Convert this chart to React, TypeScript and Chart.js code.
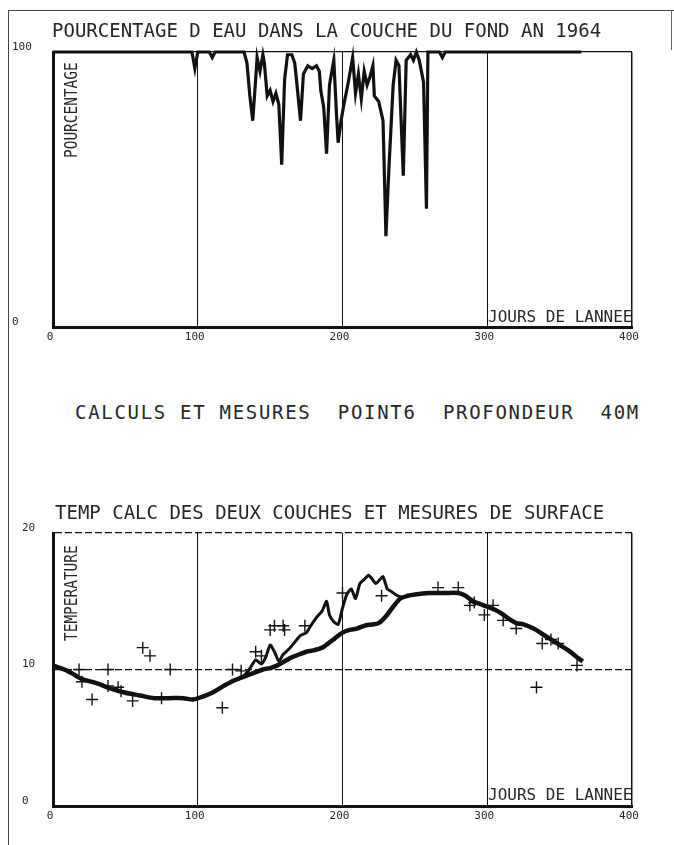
import React, { useEffect, useRef } from "react";
import { Chart, registerables } from "chart.js";
Chart.register(...registerables);

const MONO = "'DejaVu Sans Mono', monospace";
const INK = "#111";
const TXT = "#262626";

// ---- Top chart: pourcentage d'eau dans la couche du fond ----
const pctDays = [0, 96, 98, 100, 108, 110, 112, 132, 134, 136, 138, 140, 141, 143, 145, 146, 148, 150, 152, 154, 156, 158, 160, 162, 165, 167, 168, 171, 173, 176, 179, 182, 184, 185, 187, 189, 191, 194, 196, 197, 199, 201, 204, 207, 209, 211, 213, 215, 217, 219, 221, 222, 225, 228, 230, 232, 235, 237, 239, 242, 244, 247, 249, 251, 253, 256, 258, 259, 267, 269, 271, 365];
const pctValues = [100, 100, 94, 100, 100, 98, 100, 100, 96, 84, 75, 90, 98, 93, 99, 96, 84, 86, 82, 85, 81, 59, 90, 99, 99, 96, 91, 75, 92, 95, 94, 95, 93, 86, 80, 63, 88, 97, 76, 67, 75, 81, 89, 98, 85, 92, 83, 93, 88, 91, 95, 84, 82, 75, 33, 57, 88, 97, 95, 55, 97, 99, 97, 100, 97, 89, 43, 100, 100, 98, 100, 100];

// ---- Bottom chart: temperatures ----
const bottomDays = [0, 5, 10, 15, 20, 30, 40, 50, 60, 70, 80, 90, 97, 103, 110, 118, 125, 130, 135, 140, 145, 150, 155, 160, 165, 170, 175, 180, 186, 190, 195, 200, 205, 210, 215, 220, 225, 230, 235, 240, 245, 250, 260, 270, 280, 285, 290, 295, 300, 305, 310, 315, 320, 325, 332, 338, 344, 350, 356, 362, 366];
const bottomTemps = [10.3, 10.1, 9.9, 9.6, 9.3, 9.0, 8.6, 8.3, 8.1, 7.9, 7.9, 7.9, 7.8, 8.0, 8.3, 8.8, 9.2, 9.4, 9.6, 9.8, 10.0, 10.1, 10.3, 10.6, 10.9, 11.1, 11.3, 11.4, 11.6, 11.9, 12.3, 12.7, 12.9, 13.0, 13.2, 13.3, 13.4, 13.9, 14.6, 15.2, 15.4, 15.5, 15.6, 15.6, 15.6, 15.4, 15.0, 14.8, 14.6, 14.4, 14.1, 13.7, 13.4, 13.3, 13.0, 12.6, 12.2, 11.8, 11.4, 10.9, 10.6];

const surfaceDays = [125, 130, 135, 140, 144, 147, 150, 153, 156, 159, 163, 167, 171, 175, 178, 182, 186, 189, 191, 194, 197, 200, 203, 206, 209, 212, 215, 218, 220, 223, 226, 228, 231, 234, 238, 241];
const surfaceTemps = [9.2, 9.4, 9.9, 10.7, 10.4, 10.9, 11.8, 11.3, 10.6, 11.1, 11.5, 12.0, 12.5, 12.7, 13.2, 13.8, 14.3, 15.0, 14.0, 13.5, 13.3, 14.5, 15.5, 15.9, 15.2, 16.3, 16.6, 16.9, 16.7, 16.3, 16.6, 16.8, 15.9, 15.7, 15.4, 15.3];

const measDays = [18, 20, 27, 38, 38, 45, 47, 55, 62, 67, 75, 81, 117, 124, 130, 140, 144, 150, 153, 159, 160, 174, 200, 227, 266, 280, 288, 291, 298, 304, 311, 320, 334, 338, 344, 349, 362];
const measTemps = [10.0, 9.1, 7.8, 10.0, 8.8, 8.7, 8.4, 7.7, 11.6, 11.0, 7.9, 10.0, 7.2, 10.0, 9.9, 11.3, 11.0, 12.9, 13.2, 13.2, 12.9, 13.2, 15.6, 15.4, 16.0, 16.0, 14.7, 14.9, 14.0, 14.7, 13.6, 13.0, 8.7, 11.9, 12.2, 11.9, 10.3];

const xTickValues = [0, 100, 200, 300, 400];
const pctTickValues = [0, 100];
const tempTickValues = [0, 10, 20];

const pts = (xs: number[], ys: number[]) => xs.map((x, i) => ({ x, y: ys[i] }));

function xScale(height: number) {
  return {
    type: "linear",
    min: 0,
    max: 400,
    afterBuildTicks: (s: any) => {
      s.ticks = xTickValues.map((v) => ({ value: v }));
    },
    afterFit: (s: any) => {
      s.height = height;
    },
    grid: {
      drawTicks: false,
      color: (c: any) => (c.tick && c.tick.value > 0 ? INK : "rgba(0,0,0,0)"),
      lineWidth: (c: any) => (c.tick && c.tick.value === 400 ? 1.5 : 1),
    },
    border: { color: INK, width: 3 },
    ticks: {
      color: TXT,
      font: { family: MONO, size: 11 },
      padding: 4,
      labelOffset: -3,
      maxRotation: 0,
      autoSkip: false,
    },
  };
}

function yScale(min: number, max: number, values: number[], width: number, gridOn: (v: number) => boolean, dash: number[]) {
  return {
    type: "linear",
    min,
    max,
    afterBuildTicks: (s: any) => {
      s.ticks = values.map((v) => ({ value: v }));
    },
    afterFit: (s: any) => {
      s.width = width;
    },
    grid: {
      drawTicks: false,
      color: (c: any) => (c.tick && gridOn(c.tick.value) ? INK : "rgba(0,0,0,0)"),
      lineWidth: 1.3,
    },
    border: { color: INK, width: 3, dash },
    ticks: {
      color: TXT,
      font: { family: MONO, size: 11 },
      crossAlign: "far",
      labelOffset: -5,
      padding: 0,
    },
  };
}

function ChartBox({ top, height, make }: { top: number; height: number; make: () => any }) {
  const ref = useRef<HTMLCanvasElement | null>(null);
  useEffect(() => {
    if (!ref.current) return;
    const chart = new Chart(ref.current, make());
    return () => chart.destroy();
  }, []);
  return (
    <canvas
      ref={ref}
      width={674}
      height={height}
      style={{ position: "absolute", left: 0, top, width: 674, height }}
    />
  );
}

const topConfig = () => ({
  type: "line",
  data: {
    datasets: [
      {
        data: pts(pctDays, pctValues),
        borderColor: INK,
        borderWidth: 3.2,
        pointRadius: 0,
        tension: 0,
        clip: false,
      },
    ],
  },
  options: {
    animation: false,
    responsive: false,
    maintainAspectRatio: false,
    layout: { padding: { left: 12, top: 52, right: 42, bottom: 0 } },
    plugins: { legend: { display: false }, tooltip: { enabled: false } },
    scales: {
      x: xScale(18),
      y: yScale(0, 100, pctTickValues, 41, (v) => v === 100, []),
    },
  },
});

const bottomConfig = () => ({
  type: "line",
  data: {
    datasets: [
      {
        data: pts(measDays, measTemps),
        showLine: false,
        pointStyle: "cross",
        pointRadius: 6,
        borderColor: INK,
        borderWidth: 1.4,
        order: 0,
      },
      {
        data: pts(surfaceDays, surfaceTemps),
        borderColor: INK,
        borderWidth: 3,
        pointRadius: 0,
        tension: 0.2,
        order: 1,
      },
      {
        data: pts(bottomDays, bottomTemps),
        borderColor: INK,
        borderWidth: 4.5,
        pointRadius: 0,
        tension: 0.3,
        order: 2,
      },
    ],
  },
  options: {
    animation: false,
    responsive: false,
    maintainAspectRatio: false,
    layout: { padding: { left: 22, top: 53, right: 42, bottom: 0 } },
    plugins: { legend: { display: false }, tooltip: { enabled: false } },
    scales: {
      x: xScale(19),
      y: yScale(0, 20, tempTickValues, 31, (v) => v === 10 || v === 20, [7, 3]),
    },
  },
});

const txt = (extra: React.CSSProperties): React.CSSProperties => ({
  position: "absolute",
  fontFamily: MONO,
  color: TXT,
  lineHeight: 1,
  whiteSpace: "pre",
  margin: 0,
  ...extra,
});

export default function App() {
  return (
    <div style={{ position: "absolute", left: 0, top: 0, width: 674, height: 845, background: "#fff", overflow: "hidden" }}>
      {/* page frame */}
      <div style={{ position: "absolute", left: 8, top: 10, width: 666, height: 1, background: "#444" }} />
      <div style={{ position: "absolute", left: 8, top: 10, width: 1, height: 835, background: "#444" }} />
      <div style={{ position: "absolute", left: 671, top: 10, width: 1, height: 40, background: "#666" }} />

      <ChartBox top={0} height={345} make={topConfig} />
      <ChartBox top={480} height={345} make={bottomConfig} />

      <div style={txt({ left: 52, top: 21, fontSize: 19 })}>POURCENTAGE D EAU DANS LA COUCHE DU FOND AN 1964</div>
      <div style={txt({ left: 75, top: 403, fontSize: 19, letterSpacing: 1.7 })}>CALCULS ET MESURES  POINT6  PROFONDEUR  40M</div>
      <div style={txt({ left: 55, top: 503, fontSize: 19 })}>TEMP CALC DES DEUX COUCHES ET MESURES DE SURFACE</div>

      <div style={txt({ left: 63, top: 158, fontSize: 17, transformOrigin: "left top", transform: "rotate(-90deg) scaleX(0.85)" })}>POURCENTAGE</div>
      <div style={txt({ left: 63, top: 641, fontSize: 17, transformOrigin: "left top", transform: "rotate(-90deg) scaleX(0.85)" })}>TEMPERATURE</div>

      <div style={txt({ left: 488, top: 309, fontSize: 16 })}>JOURS DE LANNEE</div>
      <div style={txt({ left: 488, top: 787, fontSize: 16 })}>JOURS DE LANNEE</div>
    </div>
  );
}
